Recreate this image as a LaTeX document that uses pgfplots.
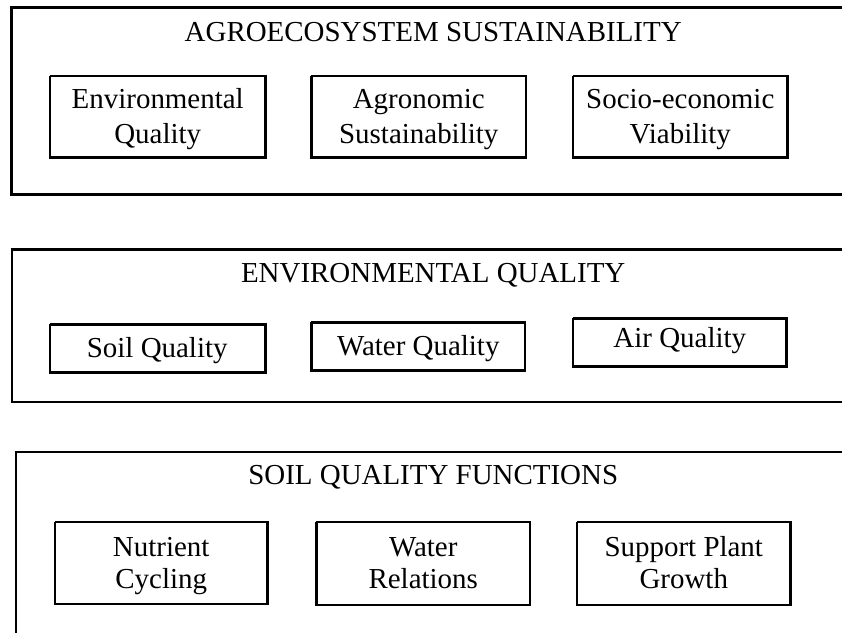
\documentclass[border=0pt]{standalone}
\usepackage{fontspec}
\setmainfont{Liberation Serif}
\usepackage{pgfplots}
\pgfplotsset{compat=1.18}
\begin{document}
\begin{tikzpicture}
\begin{axis}[hide axis, scale only axis, width=843pt, height=634pt,
  xmin=0, xmax=843, ymin=0, ymax=634, y dir=reverse, clip=false]
% bounding frame (invisible)
\addplot[draw=none, mark=none] coordinates {(0,0) (843,634)};
% outer boxes (open on the right, cut by the picture edge)
\addplot[black, line width=3pt, line join=miter, mark=none] coordinates {(843,8) (12,8) (12,195) (843,195)};
\addplot[black, line width=2.4pt, line join=miter, mark=none] coordinates {(843,250) (12,250) (12,403) (843,403)};
\addplot[black, line width=2.4pt, line join=miter, mark=none] coordinates {(16,634) (16,453) (843,453)};
% inner boxes row 1
\addplot[black, line width=2.6pt, line cap=square, line join=miter, mark=none] coordinates {(50,76) (266,76) (266,158) (50,158) (50,76)};
\addplot[black, line width=2.6pt, line cap=square, line join=miter, mark=none] coordinates {(312,76) (527,76) (527,158) (312,158) (312,76)};
\addplot[black, line width=2.6pt, line cap=square, line join=miter, mark=none] coordinates {(574,76) (789,76) (789,158) (574,158) (574,76)};
% row 2
\addplot[black, line width=2.6pt, line cap=square, line join=miter, mark=none] coordinates {(50,325) (266,325) (266,373) (50,373) (50,325)};
\addplot[black, line width=2.6pt, line cap=square, line join=miter, mark=none] coordinates {(312,323) (526,323) (526,371) (312,371) (312,323)};
\addplot[black, line width=2.4pt, line cap=square, line join=miter, mark=none] coordinates {(574,319) (788,319) (788,367) (574,367) (574,319)};
% row 3
\addplot[black, line width=2.4pt, line cap=square, line join=miter, mark=none] coordinates {(55,523) (268,523) (268,605) (55,605) (55,523)};
\addplot[black, line width=2.4pt, line cap=square, line join=miter, mark=none] coordinates {(317,523) (531,523) (531,606) (317,606) (317,523)};
\addplot[black, line width=2.4pt, line cap=square, line join=miter, mark=none] coordinates {(578,523) (792,523) (792,606) (578,606) (578,523)};
% texts
\tikzset{t/.style={font=\fontsize{29}{35}\selectfont, anchor=base, inner sep=0pt}}
\node[t] at (axis cs:434,42) {AGROECOSYSTEM SUSTAINABILITY};
\node[t] at (axis cs:158,109) {Environmental};
\node[t] at (axis cs:158,144) {Quality};
\node[t] at (axis cs:419.5,109) {Agronomic};
\node[t] at (axis cs:419.5,144) {Sustainability};
\node[t] at (axis cs:681.5,109) {Socio-economic};
\node[t] at (axis cs:681.5,144) {Viability};
\node[t] at (axis cs:434,283) {ENVIRONMENTAL QUALITY};
\node[t] at (axis cs:157.5,358) {Soil Quality};
\node[t] at (axis cs:419,356) {Water Quality};
\node[t] at (axis cs:681,348) {Air Quality};
\node[t] at (axis cs:434,485) {SOIL QUALITY FUNCTIONS};
\node[t] at (axis cs:161.5,557) {Nutrient};
\node[t] at (axis cs:161.5,590) {Cycling};
\node[t] at (axis cs:424,557) {Water};
\node[t] at (axis cs:424,590) {Relations};
\node[t] at (axis cs:685,557) {Support Plant};
\node[t] at (axis cs:685,590) {Growth};
\end{axis}
\end{tikzpicture}
\end{document}
